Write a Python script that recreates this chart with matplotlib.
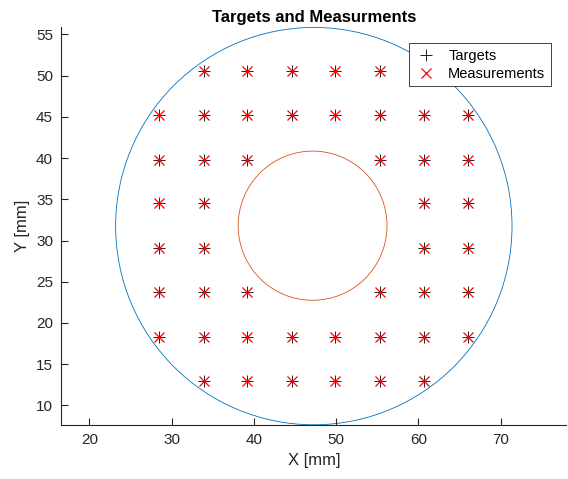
import numpy as np
import matplotlib.pyplot as plt
from matplotlib.patches import Circle

plt.rcParams['font.family'] = ['Liberation Sans', 'DejaVu Sans']

# grid columns / rows of the target pattern (mm)
colX = [28.5, 33.9, 39.2, 44.6, 49.9, 55.3, 60.7, 66.0]
rowY = [50.6, 45.2, 39.8, 34.5, 29.1, 23.7, 18.3, 12.9]
# which columns are used in each row
rowCols = [
    [1, 2, 3, 4, 5, 6],
    [0, 1, 2, 3, 4, 5, 6, 7],
    [0, 1, 2, 5, 6, 7],
    [0, 1, 6, 7],
    [0, 1, 6, 7],
    [0, 1, 2, 5, 6, 7],
    [0, 1, 2, 3, 4, 5, 6, 7],
    [1, 2, 3, 4, 5, 6],
]

outerCenter = (47.3, 31.75)
outerR = 24.1
innerCenter = (47.15, 31.8)
innerR = 9.05

tx = []
ty = []
for y, cols in zip(rowY, rowCols):
    for c in cols:
        tx.append(colX[c])
        ty.append(y)
mx = list(tx)
my = list(ty)

fig = plt.figure(figsize=(5.68, 4.79), dpi=100)
ax = fig.add_axes([0.108, 0.1127, 0.889, 0.830])

ax.add_patch(Circle(outerCenter, outerR, fill=False, color='#0072BD', lw=0.6))
ax.add_patch(Circle(innerCenter, innerR, fill=False, color='#D95319', lw=0.6))
ax.plot(tx, ty, '+', color='black', ms=8, mew=0.6, label='Targets', zorder=3)
ax.plot(mx, my, 'x', color='red', ms=6.5, mew=0.9, label='Measurements', zorder=4)

ax.set_xlim(16.6, 78.0)
ax.set_ylim(7.62, 55.85)
ax.set_xticks([20, 30, 40, 50, 60, 70])
ax.set_yticks([10, 15, 20, 25, 30, 35, 40, 45, 50, 55])

ax.spines['top'].set_visible(False)
ax.spines['right'].set_visible(False)
for s in ['left', 'bottom']:
    ax.spines[s].set_color('#262626')
    ax.spines[s].set_linewidth(0.8)
ax.tick_params(direction='in', length=5, width=0.8, colors='#262626',
               labelsize=11, pad=6)

ax.set_xlabel('X [mm]', fontsize=12, color='#262626')
ax.set_ylabel('Y [mm]', fontsize=12, color='#262626')
ax.set_title('Targets and Measurments', fontsize=12, fontweight='bold', pad=4)

leg = ax.legend(loc='upper right', bbox_to_anchor=(0.970, 0.9605),
                borderaxespad=0, fontsize=10.5, frameon=True, fancybox=False,
                edgecolor='#262626', framealpha=1, handlelength=1.5,
                borderpad=0.4, labelspacing=0.25)
leg.get_frame().set_linewidth(0.6)
leg.set_zorder(10)

fig.savefig('out.png', dpi=100)
